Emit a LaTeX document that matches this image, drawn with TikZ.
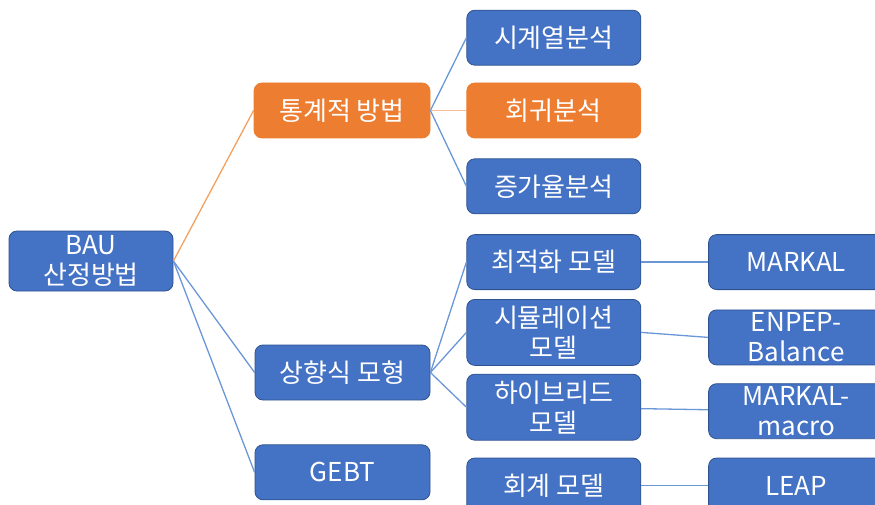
\documentclass[tikz,border=0pt]{standalone}
\usepackage{fontspec}
\setmainfont{Noto Sans CJK KR}
\usepackage{tikz}
\usetikzlibrary{positioning}
\definecolor{boxblue}{HTML}{4472C4}
\definecolor{boxblueline}{HTML}{2F528F}
\definecolor{boxorange}{HTML}{ED7D31}
\definecolor{linkblue}{HTML}{6A97D8}
\definecolor{linkorange}{HTML}{F4A160}
\definecolor{linksalmon}{HTML}{F6BE98}
\tikzset{
    bluebox/.style={
        rectangle,
        draw=boxblueline,
        fill=boxblue,
        line width=0.8pt,
        rounded corners=8pt,
        align=center,
        text=white,
        inner sep=0pt,
        minimum width=175pt,
        minimum height=55pt,
        font=\fontsize{26pt}{30pt}\selectfont
    },
    orangebox/.style={
        bluebox,
        draw=boxorange,
        fill=boxorange
    },
    tallbox/.style={minimum height=66pt},
    link/.style={draw=linkblue, line width=1.3pt}
}

\begin{document}
\begin{tikzpicture}
    \clip (0,0) rectangle (875pt,-505pt);
    % left and middle columns
    \node (bau) [bluebox, minimum width=164pt, minimum height=60pt] at (91pt,-261pt) {BAU\\산정방법};
    \node (stat) [orangebox, minimum width=176pt] at (342pt,-110.5pt) {통계적 방법};
    \node (bottomup) [bluebox] at (342.5pt,-372.5pt) {상향식 모형};
    \node (gebt) [bluebox, below=44pt of bottomup] {GEBT};

    % methods
    \node (reg) [orangebox, minimum width=174pt, right=36pt of stat] {회귀분석};
    \node (ts) [bluebox, minimum width=174pt, above=17pt of reg] {시계열분석};
    \node (growth) [bluebox, minimum width=174pt, below=20pt of reg] {증가율분석};
    \node (opt) [bluebox, minimum width=174pt, below=20pt of growth] {최적화 모델};
    \node (sim) [bluebox, tallbox, minimum width=174pt, below=9pt of opt] {시뮬레이션\\모델};
    \node (hyb) [bluebox, tallbox, minimum width=174pt, below=8pt of sim] {하이브리드\\모델};
    \node (acct) [bluebox, minimum width=174pt, below=17pt of hyb] {회계 모델};

    % tools
    \node (markal) [bluebox, right=67pt of opt] {MARKAL};
    \node (enpep) [bluebox, right=67pt of sim, yshift=-5pt] {ENPEP-\\Balance};
    \node (macro) [bluebox, right=67pt of hyb, yshift=-4pt] {MARKAL-\\macro};
    \node (leap) [bluebox, right=67pt of acct] {LEAP};

    \draw [link, draw=linkorange] (bau.east) -- (stat.west);
    \draw [link] (bau.east) -- (bottomup.west);
    \draw [link] (bau.east) -- (gebt.west);
    \draw [link] (stat.east) -- (ts.west);
    \draw [link, draw=linksalmon] (stat.east) -- (reg.west);
    \draw [link] (stat.east) -- (growth.west);
    \draw [link] (bottomup.east) -- (opt.west);
    \draw [link] (bottomup.east) -- (sim.west);
    \draw [link] (bottomup.east) -- (hyb.west);
    \draw [link] (opt) -- (markal);
    \draw [link] (sim.east) -- (enpep.west);
    \draw [link] (hyb) -- (macro);
    \draw [link] (acct) -- (leap);
\end{tikzpicture}
\end{document}
